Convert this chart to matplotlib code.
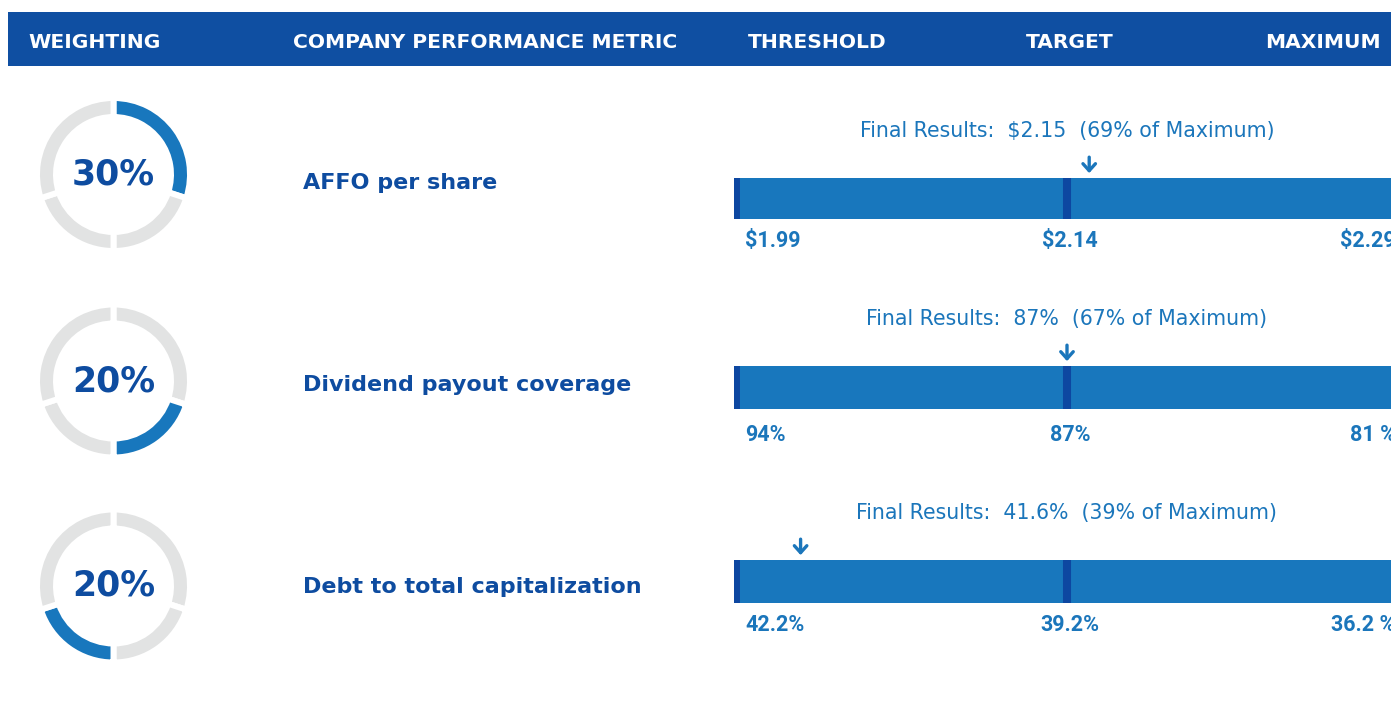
import matplotlib.pyplot as plt
import numpy as np

# data
metrics = ['AFFO per share', 'Dividend payout coverage', 'Debt to total capitalization']
weights = [30, 20, 20]
weight_segments = [30, 20, 20, 30]   # all metric weights around the ring
threshold = [1.99, 94, 42.2]
target = [2.14, 87, 39.2]
maximum = [2.29, 81, 36.2]
results = [2.15, 87, 41.6]
result_labels = ['$2.15', '87%', '41.6%']
pct_of_max = [69, 67, 39]
tick_labels = [['$1.99', '$2.14', '$2.29'],
               ['94%', '87%', '81 %'],
               ['42.2%', '39.2%', '36.2 %']]
headers = ['WEIGHTING', 'COMPANY PERFORMANCE METRIC', 'THRESHOLD', 'TARGET', 'MAXIMUM']

# colours
header_blue = '#0f4fa2'
dark_blue = '#0e4ca0'
bar_blue = '#1877bd'
marker_blue = '#0d47a1'
light_text = '#1b76bb'
ring_grey = '#e2e3e3'

W, H = 1391, 717
fig = plt.figure(figsize=(W / 100, H / 100), dpi=100)


def px_axes(x, y, w, h):
    return fig.add_axes([x / W, 1 - (y + h) / H, w / W, h / H])


def piecewise_scale(thr, tgt, mx):
    # threshold -> target fills one half of the bar, target -> maximum the other
    xp = np.sort(np.array([thr, tgt, mx], dtype=float))
    fp = np.array([0.0, 1.0, 2.0])

    def fwd(v):
        return np.interp(v, xp, fp)

    def inv(u):
        return np.interp(u, fp, xp)
    return fwd, inv


# header band
hax = px_axes(8, 12, W - 8, 54)
hax.set_facecolor(header_blue)
hax.set_xticks([])
hax.set_yticks([])
for s in hax.spines.values():
    s.set_visible(False)
head_x = [28, 293, 817, 1070, 1323]
head_ha = ['left', 'left', 'center', 'center', 'center']
for txt, x, ha in zip(headers, head_x, head_ha):
    fig.text(x / W, 1 - 42 / H, txt, ha=ha, va='center', color='white',
             fontsize=14.6, fontweight='bold', family='DejaVu Sans')

donut_cy = [174.5, 381, 586]
label_cy = [183, 385, 587]
bar_top = [178, 366, 560]
bar_h = [41, 43, 43]
tick_dy = [-16, -18.5, -15.5]
gap_lw = 4.3  # white gap between ring segments (pt)

for i in range(3):
    # weighting donut
    R = 76.5
    dax = px_axes(113.5 - R, donut_cy[i] - R, 2 * R, 2 * R)
    cols = [bar_blue if k == i else ring_grey for k in range(len(weight_segments))]
    dax.pie(weight_segments, colors=cols, startangle=90, counterclock=False,
            radius=1, wedgeprops=dict(width=19 / R, edgecolor='white', linewidth=gap_lw))
    dax.set_xlim(-1, 1)
    dax.set_ylim(-1, 1)
    dax.axis('off')
    dax.text(0, 0, f'{weights[i]}%', ha='center', va='center', color=dark_blue,
             fontsize=25, fontweight='heavy', family='DejaVu Sans')

    # metric name
    fig.text(303 / W, 1 - label_cy[i] / H, metrics[i], ha='left', va='center',
             color=dark_blue, fontsize=16, fontweight='bold', family='DejaVu Sans')

    # performance bar
    ax = px_axes(734, bar_top[i], 666, bar_h[i])
    ax.set_xscale('function', functions=piecewise_scale(threshold[i], target[i], maximum[i]))
    ax.barh(0, maximum[i] - threshold[i], left=threshold[i], height=1, color=bar_blue)
    ax.axvline(threshold[i], color=marker_blue, lw=8.6)
    ax.axvline(target[i], color=marker_blue, lw=5.8)
    ax.set_xlim(threshold[i], maximum[i])
    ax.set_ylim(-0.5, 0.5)
    ax.axis('off')

    ax.annotate(f'Final Results:  {result_labels[i]}  ({pct_of_max[i]}% of Maximum)',
                xy=(target[i], 1), xycoords=('data', 'axes fraction'),
                xytext=(0, 33.5), textcoords='offset points', ha='center', va='center',
                color=light_text, fontsize=14.8, family='DejaVu Sans')
    ax.annotate('', xy=(results[i], 1), xycoords=('data', 'axes fraction'),
                xytext=(0, 15), textcoords='offset points',
                arrowprops=dict(arrowstyle='->,head_width=0.45,head_length=0.5',
                                color=light_text, lw=2.4, mutation_scale=10,
                                shrinkA=0, shrinkB=3.5))

    offs = [(8, 'left'), (2, 'center'), (-3, 'right')]
    for val, lab, (dx, ha) in zip([threshold[i], target[i], maximum[i]], tick_labels[i], offs):
        ax.annotate(lab, xy=(val, 0), xycoords=('data', 'axes fraction'),
                    xytext=(dx, tick_dy[i]), textcoords='offset points', ha=ha, va='center',
                    color=light_text, fontsize=15.5, fontweight='bold', family='Roboto')

fig.savefig('out.png', dpi=100, facecolor='white')
